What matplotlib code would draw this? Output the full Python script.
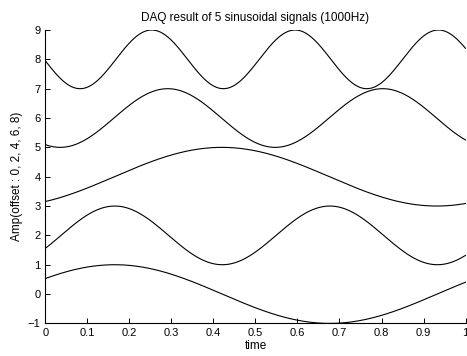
import numpy as np
import matplotlib
matplotlib.use('Agg')
import matplotlib.pyplot as plt

# signal parameters
offsets = [0, 2, 4, 6, 8]
freqs = [0.977, 1.953, 0.977, 1.953, 2.93]       # Hz
phases = [0.559, -0.454, -1.007, -2.0, -3.086]   # rad
amps = [1, 1, 1, 1, 1]

n_samples = 1000
xticks = [0, 0.1, 0.2, 0.3, 0.4, 0.5, 0.6, 0.7, 0.8, 0.9, 1]
xticklabels = ['0', '0.1', '0.2', '0.3', '0.4', '0.5', '0.6', '0.7', '0.8', '0.9', '1']
yticks = list(range(-1, 10))


def main():
    plt.rcParams['font.family'] = ['Liberation Sans', 'DejaVu Sans']
    fig = plt.figure(figsize=(4.67, 3.56), dpi=100)
    ax = fig.add_axes([0.0974, 0.0916, 0.8994, 0.8241])

    t = np.linspace(0, 1, n_samples)
    for off, f, ph, a in zip(offsets, freqs, phases, amps):
        ax.plot(t, a * np.sin(2 * np.pi * f * t + ph) + off, color='black', lw=0.8)

    ax.set_xlim(0, 1)
    ax.set_ylim(-1, 9)
    ax.set_xticks(xticks)
    ax.set_xticklabels(xticklabels)
    ax.set_yticks(yticks)
    ax.set_yticklabels([str(v).replace('-', '\u2212') for v in yticks])
    ax.tick_params(direction='in', length=3.5, width=0.7, labelsize=8, pad=3.5)
    ax.spines['top'].set_visible(False)
    ax.spines['right'].set_visible(False)
    for s in ('left', 'bottom'):
        ax.spines[s].set_linewidth(0.8)

    ax.set_title('DAQ result of 5 sinusoidal signals (1000Hz)', fontsize=8.5, pad=6.5)
    ax.set_xlabel('time', fontsize=8.5, labelpad=1.5)
    ax.set_ylabel('Amp(offset : 0, 2, 4, 6, 8)', fontsize=8.5, labelpad=3.5)

    plt.savefig('out.png', dpi=100)


if __name__ == '__main__':
    main()
